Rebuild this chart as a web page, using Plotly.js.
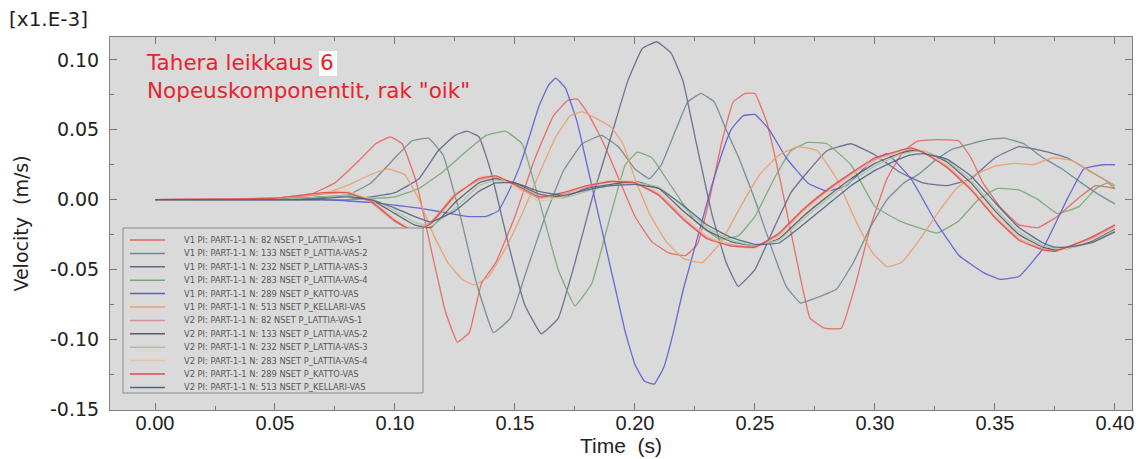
<!DOCTYPE html>
<html>
<head>
<meta charset="utf-8">
<script src="https://cdn.plot.ly/plotly-3.0.1.min.js"></script>
<style>html,body{margin:0;padding:0;background:#fff;}#chart{width:1142px;height:459px;}</style>
</head>
<body>
<div id="chart"></div>
<script>
// ---------- DATA ----------
const seriesNames = [
  'V1 PI: PART-1-1 N: 82 NSET P_LATTIA-VAS-1',
  'V1 PI: PART-1-1 N: 133 NSET P_LATTIA-VAS-2',
  'V1 PI: PART-1-1 N: 232 NSET P_LATTIA-VAS-3',
  'V1 PI: PART-1-1 N: 283 NSET P_LATTIA-VAS-4',
  'V1 PI: PART-1-1 N: 289 NSET P_KATTO-VAS',
  'V1 PI: PART-1-1 N: 513 NSET P_KELLARI-VAS',
  'V2 PI: PART-1-1 N: 82 NSET P_LATTIA-VAS-1',
  'V2 PI: PART-1-1 N: 133 NSET P_LATTIA-VAS-2',
  'V2 PI: PART-1-1 N: 232 NSET P_LATTIA-VAS-3',
  'V2 PI: PART-1-1 N: 283 NSET P_LATTIA-VAS-4',
  'V2 PI: PART-1-1 N: 289 NSET P_KATTO-VAS',
  'V2 PI: PART-1-1 N: 513 NSET P_KELLARI-VAS'
];

const t_V1_82 = [0,0.05,0.065,0.075,0.085,0.092,0.098,0.103,0.109,0.115,0.121,0.126,0.131,0.136,0.142,0.15,0.158,0.166,0.172,0.176,0.181,0.187,0.194,0.2,0.207,0.214,0.221,0.226,0.231,0.236,0.241,0.246,0.25,0.255,0.261,0.267,0.273,0.279,0.286,0.292,0.298,0.305,0.312,0.318,0.326,0.335,0.34,0.345,0.352,0.36,0.368,0.376,0.384,0.392,0.40];
const v_V1_82 = [0,0.001,0.004,0.012,0.028,0.04,0.045,0.04,0.012,-0.035,-0.08,-0.102,-0.095,-0.06,-0.045,-0.012,0.028,0.06,0.071,0.072,0.06,0.04,0.012,-0.012,-0.03,-0.038,-0.04,-0.032,0.0,0.04,0.07,0.076,0.076,0.055,0.01,-0.04,-0.085,-0.092,-0.092,-0.06,-0.02,0.015,0.035,0.042,0.043,0.042,0.03,0.012,-0.005,-0.018,-0.02,-0.012,0.0,0.01,0.008];

const t_V1_133 = [0,0.06,0.08,0.09,0.1,0.107,0.114,0.12,0.127,0.134,0.141,0.148,0.155,0.163,0.17,0.178,0.186,0.193,0.2,0.206,0.211,0.217,0.222,0.2275,0.233,0.238,0.243,0.25,0.257,0.263,0.269,0.276,0.284,0.291,0.298,0.305,0.312,0.318,0.325,0.332,0.34,0.347,0.354,0.362,0.37,0.378,0.386,0.393,0.40];
const v_V1_133 = [0,0.001,0.003,0.012,0.03,0.042,0.044,0.032,-0.01,-0.06,-0.095,-0.085,-0.05,-0.01,0.02,0.04,0.046,0.038,0.022,0.015,0.025,0.05,0.07,0.076,0.07,0.05,0.031,0.0,-0.035,-0.062,-0.074,-0.07,-0.064,-0.045,-0.02,0.0,0.012,0.018,0.028,0.036,0.04,0.043,0.044,0.04,0.03,0.022,0.012,0.004,-0.003];

const t_V1_232 = [0,0.08,0.09,0.1,0.11,0.118,0.125,0.13,0.135,0.14,0.147,0.154,0.161,0.168,0.175,0.182,0.19,0.197,0.203,0.209,0.215,0.22,0.225,0.232,0.238,0.243,0.25,0.258,0.265,0.272,0.28,0.29,0.3,0.31,0.32,0.33,0.34,0.35,0.36,0.37,0.38,0.39,0.40];
const v_V1_232 = [0,0.0,0.002,0.005,0.015,0.035,0.046,0.049,0.045,0.02,-0.03,-0.075,-0.096,-0.085,-0.045,0.0,0.045,0.085,0.108,0.113,0.105,0.085,0.045,-0.01,-0.045,-0.062,-0.05,-0.02,0.005,0.02,0.035,0.04,0.032,0.02,0.012,0.01,0.015,0.03,0.038,0.035,0.03,0.02,0.01];

const t_V1_283 = [0,0.08,0.1,0.11,0.12,0.13,0.138,0.146,0.153,0.16,0.168,0.175,0.182,0.19,0.196,0.201,0.207,0.215,0.225,0.235,0.243,0.25,0.258,0.265,0.272,0.28,0.29,0.3,0.31,0.318,0.326,0.335,0.343,0.351,0.36,0.368,0.376,0.385,0.392,0.397,0.40];
const v_V1_283 = [0,0.0,0.002,0.008,0.02,0.035,0.046,0.049,0.04,0.0,-0.05,-0.076,-0.06,-0.01,0.025,0.034,0.03,0.01,-0.015,-0.028,-0.026,-0.012,0.015,0.035,0.041,0.04,0.025,-0.005,-0.015,-0.02,-0.024,-0.015,0.0,0.008,0.007,0.0,-0.01,-0.005,0.008,0.012,0.008];

const t_V1_289 = [0,0.07,0.09,0.1,0.11,0.12,0.13,0.138,0.143,0.148,0.152,0.156,0.16,0.164,0.167,0.171,0.176,0.18,0.184,0.188,0.192,0.196,0.2,0.204,0.208,0.212,0.216,0.22,0.224,0.228,0.232,0.236,0.24,0.245,0.25,0.256,0.263,0.272,0.28,0.288,0.297,0.305,0.315,0.325,0.335,0.345,0.352,0.36,0.37,0.38,0.387,0.395,0.40];
const v_V1_289 = [0,0,-0.002,-0.004,-0.006,-0.009,-0.012,-0.012,-0.008,0.008,0.024,0.045,0.067,0.082,0.087,0.08,0.055,0.025,-0.005,-0.035,-0.065,-0.095,-0.118,-0.13,-0.132,-0.12,-0.095,-0.065,-0.04,-0.015,0.01,0.032,0.05,0.06,0.061,0.05,0.03,0.012,0.006,0.01,0.025,0.033,0.015,-0.015,-0.04,-0.052,-0.057,-0.055,-0.035,0.0,0.022,0.025,0.025];

const t_V1_513 = [0,0.05,0.07,0.08,0.09,0.097,0.104,0.11,0.116,0.122,0.128,0.133,0.139,0.146,0.153,0.16,0.167,0.173,0.178,0.184,0.19,0.195,0.2,0.206,0.213,0.22,0.228,0.236,0.244,0.252,0.26,0.268,0.276,0.284,0.292,0.299,0.305,0.311,0.318,0.326,0.334,0.342,0.35,0.358,0.366,0.374,0.382,0.39,0.40];
const v_V1_513 = [0,0.001,0.004,0.01,0.018,0.022,0.018,0.0,-0.025,-0.045,-0.057,-0.061,-0.055,-0.035,-0.01,0.018,0.045,0.06,0.063,0.058,0.052,0.04,0.015,-0.01,-0.03,-0.042,-0.045,-0.03,-0.005,0.018,0.032,0.038,0.035,0.015,-0.015,-0.038,-0.048,-0.045,-0.03,-0.01,0.008,0.018,0.024,0.026,0.025,0.03,0.028,0.02,0.01];

const t_V2 = [0,0.05,0.06,0.07,0.08,0.09,0.10,0.108,0.115,0.125,0.135,0.142,0.15,0.16,0.17,0.18,0.19,0.20,0.21,0.22,0.23,0.24,0.25,0.26,0.27,0.28,0.29,0.30,0.31,0.315,0.32,0.33,0.34,0.35,0.36,0.37,0.375,0.38,0.39,0.40];
const v_V2_82  = [0,0.001,0.002,0.004,0.005,-0.002,-0.016,-0.022,-0.016,0.004,0.014,0.016,0.010,0.001,0.004,0.009,0.013,0.012,0.004,-0.013,-0.027,-0.032,-0.034,-0.025,-0.008,0.006,0.018,0.029,0.034,0.036,0.034,0.024,0.008,-0.012,-0.028,-0.035,-0.036,-0.034,-0.028,-0.019];
const v_V2_133 = [0,0.0,0.001,0.002,0.003,0.0,-0.010,-0.018,-0.020,-0.002,0.012,0.015,0.012,0.004,0.002,0.008,0.011,0.013,0.008,-0.008,-0.022,-0.030,-0.033,-0.028,-0.012,0.002,0.015,0.026,0.033,0.035,0.035,0.027,0.012,-0.008,-0.025,-0.034,-0.036,-0.035,-0.030,-0.021];
const v_V2_232 = [0,0,0.001,0.002,0.003,0.001,-0.008,-0.016,-0.019,-0.006,0.010,0.014,0.011,0.003,0.001,0.006,0.010,0.012,0.009,-0.005,-0.02,-0.029,-0.033,-0.029,-0.014,0.0,0.013,0.024,0.032,0.034,0.035,0.028,0.014,-0.006,-0.023,-0.033,-0.035,-0.035,-0.031,-0.022];
const v_V2_283 = [0,0.001,0.003,0.005,0.006,0.0,-0.014,-0.021,-0.018,0.002,0.016,0.017,0.009,-0.001,0.002,0.010,0.014,0.013,0.005,-0.011,-0.026,-0.033,-0.035,-0.026,-0.009,0.005,0.017,0.028,0.034,0.037,0.035,0.025,0.009,-0.011,-0.027,-0.036,-0.037,-0.035,-0.029,-0.020];
const v_V2_289 = [0,0.001,0.003,0.005,0.005,-0.001,-0.015,-0.023,-0.017,0.003,0.015,0.017,0.011,0.002,0.005,0.010,0.013,0.012,0.003,-0.014,-0.028,-0.033,-0.034,-0.024,-0.007,0.007,0.019,0.030,0.035,0.037,0.034,0.023,0.007,-0.013,-0.029,-0.036,-0.037,-0.034,-0.027,-0.018];
const v_V2_513 = [0,0,0.0,0.001,0.002,0.0,-0.006,-0.012,-0.016,-0.008,0.006,0.012,0.012,0.006,0.003,0.007,0.010,0.011,0.008,-0.004,-0.018,-0.027,-0.032,-0.031,-0.018,-0.004,0.010,0.021,0.029,0.032,0.033,0.029,0.017,-0.002,-0.02,-0.031,-0.034,-0.034,-0.031,-0.023];

const yTickVals = [-0.15,-0.10,-0.05,0.00,0.05,0.10];
const yTickText = ['-0.15','-0.10','-0.05','0.00','0.05','0.10'];
const xTickVals = [0,0.05,0.10,0.15,0.20,0.25,0.30,0.35,0.40];
const xTickText = ['0.00','0.05','0.10','0.15','0.20','0.25','0.30','0.35','0.40'];

// ---------- STYLE ----------
const colors = ['#e5645c','#6d8790','#62668a','#74a874','#5c5cd2','#eb9d6c',
                '#d9919c','#58586e','#a3c59b','#efc29a','#e04a48','#4f5f88'];
const seriesT = [t_V1_82,t_V1_133,t_V1_232,t_V1_283,t_V1_289,t_V1_513,t_V2,t_V2,t_V2,t_V2,t_V2,t_V2];
const seriesV = [v_V1_82,v_V1_133,v_V1_232,v_V1_283,v_V1_289,v_V1_513,v_V2_82,v_V2_133,v_V2_232,v_V2_283,v_V2_289,v_V2_513];

const W = 1142, H = 459, L = 110, R = 10, T = 37, B = 49;
const pw = W - L - R, ph = H - T - B;
const px = x => (x - L) / pw;
const py = y => (H - B - y) / ph;

const traces = seriesNames.map((n, i) => ({
  type: 'scatter', mode: 'lines', name: n,
  x: seriesT[i], y: seriesV[i],
  line: {color: colors[i], width: 1.3, shape: 'spline', smoothing: 0.3},
  opacity: 0.9, showlegend: false, hoverinfo: 'x+y+name'
}));

// compact legend box built from the same names / colours
const shapes = [{
  type: 'rect', xref: 'paper', yref: 'paper', layer: 'above',
  x0: px(123), x1: px(423), y0: py(393), y1: py(228),
  line: {color: '#8a8a8a', width: 1}, fillcolor: '#dadada'
}, {
  // white highlight behind the "6"
  type: 'rect', xref: 'paper', yref: 'paper', layer: 'above',
  x0: px(319), x1: px(337), y0: py(76), y1: py(51),
  line: {width: 0}, fillcolor: '#ffffff'
}];
const annotations = [];
seriesNames.forEach((n, i) => {
  const yy = 240 + i * 13.4;
  shapes.push({type: 'line', xref: 'paper', yref: 'paper', layer: 'above',
    x0: px(130), x1: px(165), y0: py(yy), y1: py(yy),
    line: {color: colors[i], width: 1.5}});
  annotations.push({xref: 'paper', yref: 'paper', x: px(182), y: py(yy),
    xanchor: 'left', yanchor: 'middle', showarrow: false, text: n,
    font: {family: 'DejaVu Sans', size: 8.3, color: '#555'}});
});

annotations.push(
  {xref: 'paper', yref: 'paper', x: px(144), y: py(77), xanchor: 'left', yanchor: 'middle',
   align: 'left', showarrow: false, text: 'Tahera leikkaus 6<br>Nopeuskomponentit, rak "oik"',
   font: {family: 'DejaVu Sans', size: 21.5, color: '#e8232d'}},
  {xref: 'paper', yref: 'paper', x: px(7), y: py(19), xanchor: 'left', yanchor: 'middle',
   showarrow: false, text: '[x1.E-3]', font: {family: 'DejaVu Sans', size: 20, color: '#222'}}
);

const layout = {
  width: W, height: H,
  margin: {l: L, r: R, t: T, b: B, pad: 0},
  paper_bgcolor: '#ffffff', plot_bgcolor: '#dadada',
  showlegend: false,
  xaxis: {
    range: [-0.01875, 0.4071], tickmode: 'array', tickvals: xTickVals, ticktext: xTickText,
    ticks: 'inside', ticklen: 7, tickcolor: '#777', tickwidth: 1,
    minor: {dtick: 0.025, tick0: 0, ticks: 'inside', ticklen: 4, tickcolor: '#777'},
    showline: true, linecolor: '#808080', linewidth: 1, mirror: 'ticks',
    showgrid: false, zeroline: false, ticklabelstandoff: -5,
    tickfont: {family: 'Liberation Sans, Arial, sans-serif', size: 20, color: '#222'},
    title: {text: 'Time\u00a0 (s)', standoff: 1, font: {family: 'Liberation Sans, Arial, sans-serif', size: 21, color: '#222'}}
  },
  yaxis: {
    range: [-0.1505, 0.1164], tickmode: 'array', tickvals: yTickVals, ticktext: yTickText,
    ticks: 'inside', ticklen: 7, tickcolor: '#777', tickwidth: 1,
    minor: {dtick: 0.025, tick0: 0, ticks: 'inside', ticklen: 4, tickcolor: '#777'},
    showline: true, linecolor: '#808080', linewidth: 1, mirror: 'ticks',
    showgrid: false, zeroline: false, ticklabelstandoff: 6,
    tickfont: {family: 'DejaVu Sans', size: 19, color: '#222'},
    title: {text: 'Velocity\u00a0 (m/s)', standoff: 16, font: {family: 'DejaVu Sans', size: 19, color: '#222'}}
  },
  shapes: shapes,
  annotations: annotations
};

Plotly.newPlot('chart', traces, layout, {staticPlot: true, displayModeBar: false});
</script>
</body>
</html>
